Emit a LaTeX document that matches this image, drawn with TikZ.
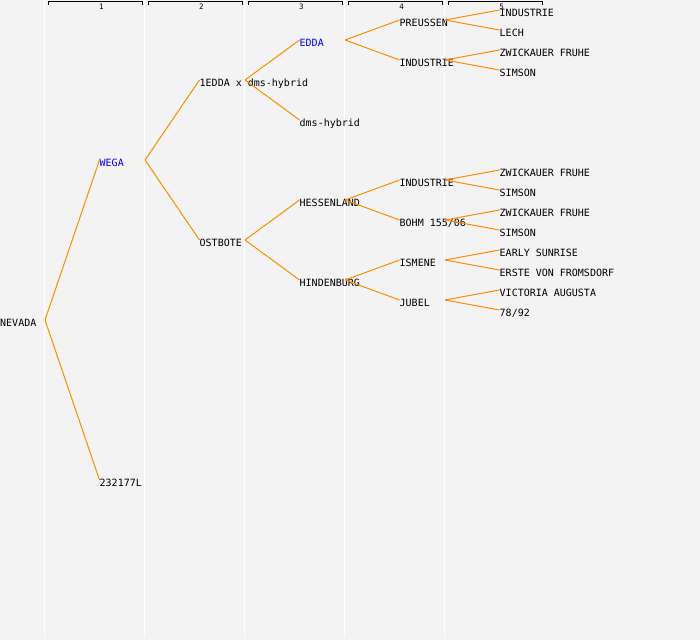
\documentclass[tikz,border=0pt]{standalone}
\usepackage{fontspec}
\setmonofont{DejaVu Sans Mono}
\definecolor{bg}{HTML}{F3F3F3}
\definecolor{conncol}{HTML}{FF8C00}
\definecolor{bluetxt}{HTML}{0000FF}
\tikzset{
  lbl/.style={anchor=base west, inner sep=0pt, font=\ttfamily\fontsize{10}{10}\selectfont},
  hdr/.style={anchor=base, inner sep=0pt, font=\ttfamily\fontsize{7.5}{7.5}\selectfont},
  conn/.style={draw=conncol, line width=1pt},
  sep/.style={draw=white, line width=1.3pt},
  brk/.style={draw=black, line width=1pt}
}
\newcommand\pn[5]{%
  \node[lbl, text=#4] (#1) at ({max(0,100*#2-0.5)}, {#3+6}) {#5};
  \coordinate (#1-in) at ({max(0,100*#2-0.5)}, {#3});
  \coordinate (#1-out) at ({45+100*#2}, {#3});
}
\begin{document}
\begin{tikzpicture}[x=1pt,y=-1pt]
\useasboundingbox[fill=bg] (0,0) rectangle (700,640);
% column separators
\foreach \k in {0,...,4} {\draw[sep] ({44.5+100*\k},0) -- ({44.5+100*\k},638);}
% header brackets
\foreach \k in {1,...,5} {
  \draw[brk] ({100*\k-52},5) -- ({100*\k-52},1.5) -- ({100*\k+42},1.5) -- ({100*\k+42},5);
  \node[hdr] (h\k) at ({100*\k+1.5},9) {\k};
}
% nodes
\pn{nev}{0}{320}{black}{NEVADA}
\pn{wega}{1}{160}{bluetxt}{WEGA}
\pn{n232}{1}{480}{black}{232177L}
\pn{edx}{2}{80}{black}{1EDDA x dms-hybrid}
\pn{ost}{2}{240}{black}{OSTBOTE}
\pn{edda}{3}{40}{bluetxt}{EDDA}
\pn{dms}{3}{120}{black}{dms-hybrid}
\pn{hes}{3}{200}{black}{HESSENLAND}
\pn{hin}{3}{280}{black}{HINDENBURG}
\pn{pre}{4}{20}{black}{PREUSSEN}
\pn{indA}{4}{60}{black}{INDUSTRIE}
\pn{indB}{4}{180}{black}{INDUSTRIE}
\pn{boh}{4}{220}{black}{BOHM 155/06}
\pn{ism}{4}{260}{black}{ISMENE}
\pn{jub}{4}{300}{black}{JUBEL}
\pn{i5}{5}{10}{black}{INDUSTRIE}
\pn{lech}{5}{30}{black}{LECH}
\pn{zwA}{5}{50}{black}{ZWICKAUER FRUHE}
\pn{siA}{5}{70}{black}{SIMSON}
\pn{zwB}{5}{170}{black}{ZWICKAUER FRUHE}
\pn{siB}{5}{190}{black}{SIMSON}
\pn{zwC}{5}{210}{black}{ZWICKAUER FRUHE}
\pn{siC}{5}{230}{black}{SIMSON}
\pn{ear}{5}{250}{black}{EARLY SUNRISE}
\pn{ers}{5}{270}{black}{ERSTE VON FROMSDORF}
\pn{vic}{5}{290}{black}{VICTORIA AUGUSTA}
\pn{n78}{5}{310}{black}{78/92}
% connectors
\foreach \a/\b in {nev/wega, nev/n232, wega/edx, wega/ost, edx/edda, edx/dms,
  ost/hes, ost/hin, edda/pre, edda/indA, hes/indB, hes/boh, hin/ism, hin/jub,
  pre/i5, pre/lech, indA/zwA, indA/siA, indB/zwB, indB/siB, boh/zwC, boh/siC,
  ism/ear, ism/ers, jub/vic, jub/n78}
  {\draw[conn] (\a-out) -- (\b-in);}
\end{tikzpicture}
\end{document}
